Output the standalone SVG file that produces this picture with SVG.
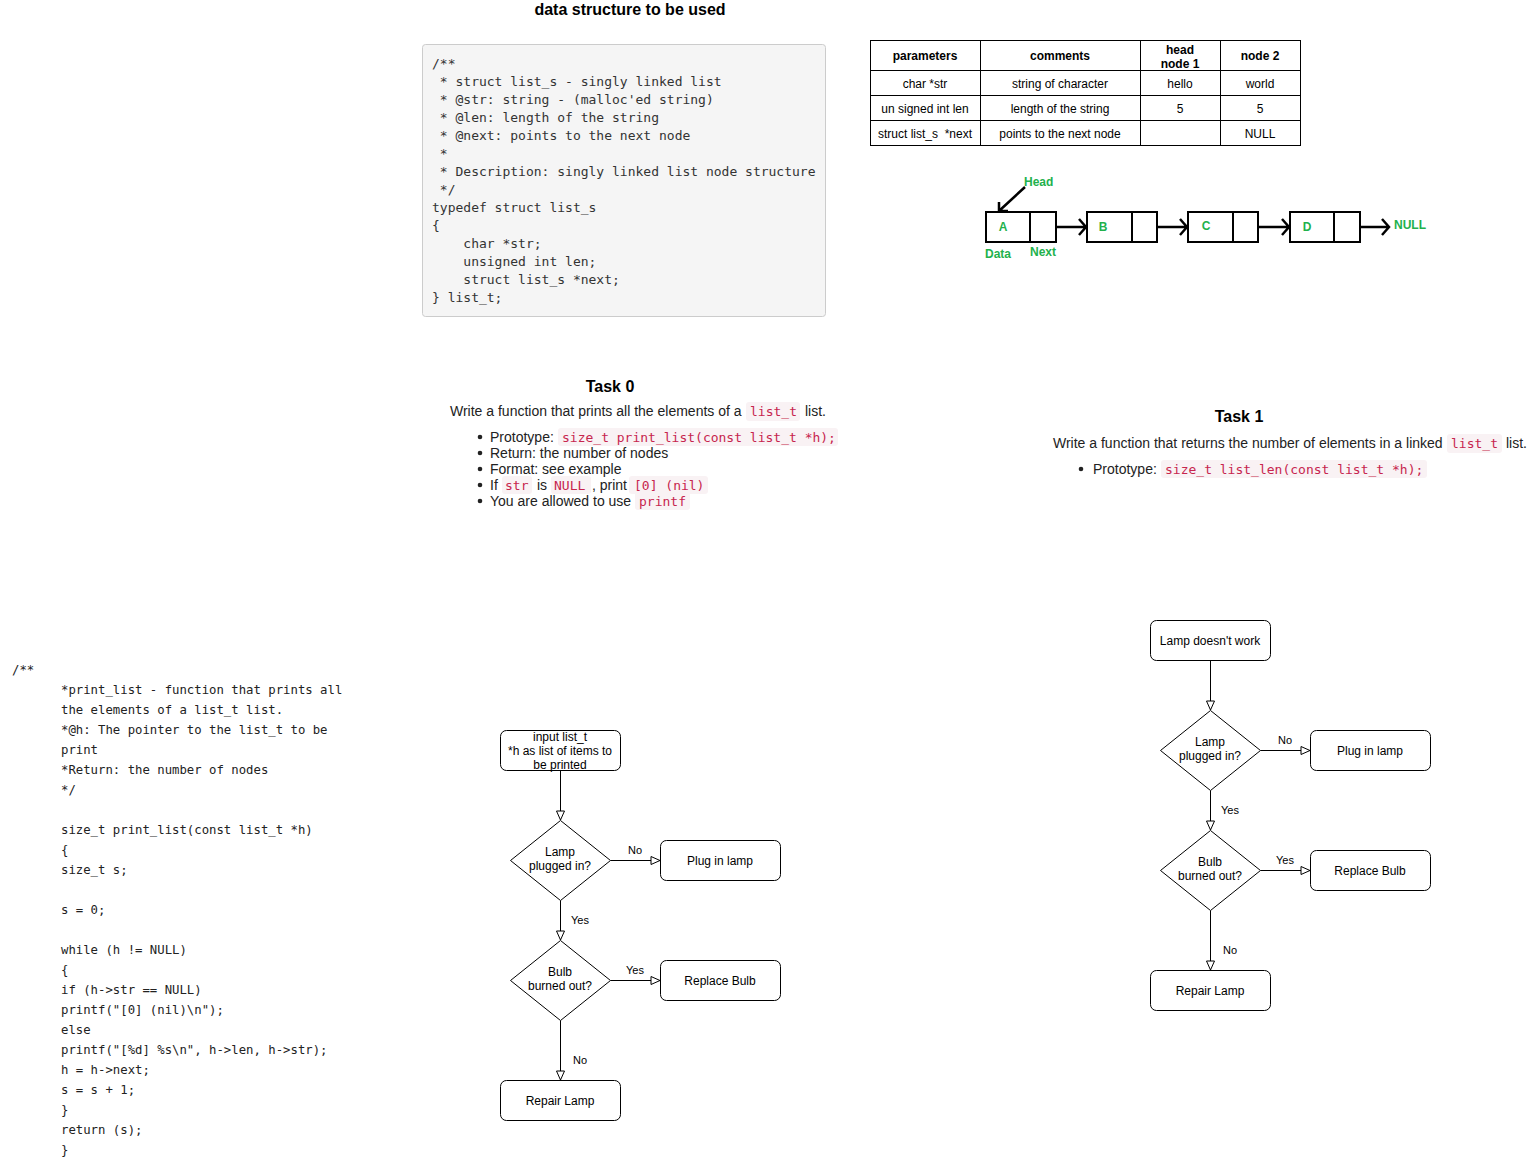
<svg xmlns="http://www.w3.org/2000/svg" width="1531" height="1161" viewBox="0 0 1531 1161">
<style>
.sans{font-family:"Liberation Sans",Arial,sans-serif}
.mono{font-family:"DejaVu Sans Mono","Liberation Mono",monospace}
.code{font-family:"DejaVu Sans Mono","Liberation Mono",monospace;font-size:13px;fill:#333}
.lcode{font-family:"DejaVu Sans Mono","Liberation Mono",monospace;font-size:12.3px;fill:#222}
.td{font-family:"Liberation Sans",Arial,sans-serif;font-size:12px;fill:#000;text-anchor:middle}
.th{font-family:"Liberation Sans",Arial,sans-serif;font-size:12px;font-weight:bold;fill:#000;text-anchor:middle}
.body{font-family:"Liberation Sans",Arial,sans-serif;font-size:14px;fill:#222}
.ic{fill:#f9f2f4}
.ict{font-family:"DejaVu Sans Mono","Liberation Mono",monospace;font-size:13px;fill:#c7254e}
.grn{font-family:"Liberation Sans",Arial,sans-serif;font-size:12px;font-weight:bold;fill:#22b14c}
.box{fill:#fff;stroke:#000;stroke-width:1}
.fl{font-family:"Liberation Sans",Arial,sans-serif;font-size:12px;fill:#000;text-anchor:middle}
.lbl{font-family:"Liberation Sans",Arial,sans-serif;font-size:11px;fill:#000;text-anchor:middle}
.edge{fill:none;stroke:#000;stroke-width:1}
.ll{fill:none;stroke:#000;stroke-width:2}
.lla{fill:none;stroke:#000;stroke-width:2.5}
</style>
<defs>
<marker id="tri" markerWidth="12" markerHeight="10" refX="10" refY="5" orient="auto" markerUnits="userSpaceOnUse">
<path d="M1,1 L10,5 L1,9 Z" fill="#fff" stroke="#000" stroke-width="1"/>
</marker>
</defs>
<rect width="1531" height="1161" fill="#fff"/>

<g id="title">
<text x="630" y="15" class="sans" font-size="16" font-weight="bold" text-anchor="middle">data structure to be used</text>
</g>

<g id="struct-code">
<rect x="422.5" y="44.5" width="403" height="272" rx="3" fill="#f5f5f5" stroke="#ccc"/>
<text class="code" xml:space="preserve"><tspan x="432" y="68">/**</tspan><tspan x="432" y="86"> * struct list_s - singly linked list</tspan><tspan x="432" y="104"> * @str: string - (malloc'ed string)</tspan><tspan x="432" y="122"> * @len: length of the string</tspan><tspan x="432" y="140"> * @next: points to the next node</tspan><tspan x="432" y="158"> *</tspan><tspan x="432" y="176"> * Description: singly linked list node structure</tspan><tspan x="432" y="194"> */</tspan><tspan x="432" y="212">typedef struct list_s</tspan><tspan x="432" y="230">{</tspan><tspan x="432" y="248">    char *str;</tspan><tspan x="432" y="266">    unsigned int len;</tspan><tspan x="432" y="284">    struct list_s *next;</tspan><tspan x="432" y="302">} list_t;</tspan></text>
</g>

<g id="table">
<rect x="870.5" y="40.5" width="430" height="105" fill="#fff" stroke="#000"/>
<path d="M980.5,40.5V145.5M1140.5,40.5V145.5M1220.5,40.5V145.5M870.5,70.5H1300.5M870.5,95.5H1300.5M870.5,120.5H1300.5" stroke="#000" fill="none"/>
<text x="925" y="60" class="th">parameters</text>
<text x="1060" y="60" class="th">comments</text>
<text x="1180" y="54" class="th">head</text>
<text x="1180" y="68" class="th">node 1</text>
<text x="1260" y="60" class="th">node 2</text>
<text x="925" y="88" class="td">char *str</text>
<text x="1060" y="88" class="td">string of character</text>
<text x="1180" y="88" class="td">hello</text>
<text x="1260" y="88" class="td">world</text>
<text x="925" y="113" class="td">un signed int len</text>
<text x="1060" y="113" class="td">length of the string</text>
<text x="1180" y="113" class="td">5</text>
<text x="1260" y="113" class="td">5</text>
<text x="925" y="138" class="td" xml:space="preserve">struct list_s  *next</text>
<text x="1060" y="138" class="td">points to the next node</text>
<text x="1260" y="138" class="td">NULL</text>
</g>

<g id="linked-list">
<rect x="986" y="212" width="70" height="30" class="ll"/>
<line x1="1030" y1="212" x2="1030" y2="242" class="ll"/>
<rect x="1087" y="212" width="70" height="30" class="ll"/>
<line x1="1132" y1="212" x2="1132" y2="242" class="ll"/>
<rect x="1188" y="212" width="70" height="30" class="ll"/>
<line x1="1233" y1="212" x2="1233" y2="242" class="ll"/>
<rect x="1290" y="212" width="70" height="30" class="ll"/>
<line x1="1334" y1="212" x2="1334" y2="242" class="ll"/>
<path d="M1056,227H1085M1079,219L1086,227L1079,235" class="lla"/>
<path d="M1157,227H1186M1180,219L1187,227L1180,235" class="lla"/>
<path d="M1258,227H1288M1282,219L1289,227L1282,235" class="lla"/>
<path d="M1360,227H1388M1382,219L1389,227L1382,235" class="lla"/>
<path d="M1025,187L999,211M999,202L999,211L1008,211" class="lla"/>
<text x="1003" y="231" class="grn" text-anchor="middle">A</text>
<text x="1103" y="231" class="grn" text-anchor="middle">B</text>
<text x="1206" y="230" class="grn" text-anchor="middle">C</text>
<text x="1307" y="231" class="grn" text-anchor="middle">D</text>
<text x="1024" y="186" class="grn">Head</text>
<text x="985" y="258" class="grn">Data</text>
<text x="1030" y="256" class="grn">Next</text>
<text x="1394" y="229" class="grn">NULL</text>
</g>

<g id="task0">
<text x="610" y="392" class="sans" font-size="16" font-weight="bold" text-anchor="middle">Task 0</text>
<text x="450" y="416" class="body">Write a function that prints all the elements of a</text>
<rect x="746" y="402" width="54" height="19" rx="3" class="ic"/>
<text x="750" y="416" class="ict">list_t</text>
<text x="805" y="416" class="body">list.</text>
<circle cx="480" cy="437" r="2.3" fill="#222"/>
<circle cx="480" cy="453" r="2.3" fill="#222"/>
<circle cx="480" cy="469" r="2.3" fill="#222"/>
<circle cx="480" cy="485" r="2.3" fill="#222"/>
<circle cx="480" cy="501" r="2.3" fill="#222"/>
<text x="490" y="442" class="body">Prototype:</text>
<rect x="558" y="428" width="280" height="18" rx="3" class="ic"/>
<text x="562" y="442" class="ict">size_t print_list(const list_t *h);</text>
<text x="490" y="458" class="body">Return: the number of nodes</text>
<text x="490" y="474" class="body">Format: see example</text>
<text x="490" y="490" class="body">If</text>
<rect x="502" y="476" width="30" height="18" rx="3" class="ic"/>
<text x="505" y="490" class="ict">str</text>
<text x="537" y="490" class="body">is</text>
<rect x="551" y="476" width="40" height="18" rx="3" class="ic"/>
<text x="554" y="490" class="ict">NULL</text>
<text x="592" y="490" class="body">, print</text>
<rect x="629" y="476" width="79" height="18" rx="3" class="ic"/>
<text x="634" y="490" class="ict">[0] (nil)</text>
<text x="490" y="506" class="body">You are allowed to use</text>
<rect x="635" y="492" width="55" height="18" rx="3" class="ic"/>
<text x="639" y="506" class="ict">printf</text>
</g>

<g id="task1">
<text x="1239" y="422" class="sans" font-size="16" font-weight="bold" text-anchor="middle">Task 1</text>
<text x="1053" y="448" class="body">Write a function that returns the number of elements in a linked</text>
<rect x="1447" y="434" width="55" height="19" rx="3" class="ic"/>
<text x="1451" y="448" class="ict">list_t</text>
<text x="1506" y="448" class="body">list.</text>
<circle cx="1081" cy="469" r="2.3" fill="#222"/>
<text x="1093" y="474" class="body">Prototype:</text>
<rect x="1161" y="460" width="266" height="18" rx="3" class="ic"/>
<text x="1165" y="474" class="ict">size_t list_len(const list_t *h);</text>
</g>

<g id="print-list-code">
<text class="lcode" xml:space="preserve"><tspan x="12" y="674">/**</tspan><tspan x="61" y="694">*print_list - function that prints all</tspan><tspan x="61" y="714">the elements of a list_t list.</tspan><tspan x="61" y="734">*@h: The pointer to the list_t to be</tspan><tspan x="61" y="754">print</tspan><tspan x="61" y="774">*Return: the number of nodes</tspan><tspan x="61" y="794">*/</tspan><tspan x="61" y="834">size_t print_list(const list_t *h)</tspan><tspan x="61" y="854">{</tspan><tspan x="61" y="874">size_t s;</tspan><tspan x="61" y="914">s = 0;</tspan><tspan x="61" y="954">while (h != NULL)</tspan><tspan x="61" y="974">{</tspan><tspan x="61" y="994">if (h-&gt;str == NULL)</tspan><tspan x="61" y="1014">printf("[0] (nil)\n");</tspan><tspan x="61" y="1034">else</tspan><tspan x="61" y="1054">printf("[%d] %s\n", h-&gt;len, h-&gt;str);</tspan><tspan x="61" y="1074">h = h-&gt;next;</tspan><tspan x="61" y="1094">s = s + 1;</tspan><tspan x="61" y="1114">}</tspan><tspan x="61" y="1134">return (s);</tspan><tspan x="61" y="1154">}</tspan></text>
</g>

<g id="connectors">
<path d="M560.5,770.5V820" class="edge" marker-end="url(#tri)"/>
<path d="M610.5,860.5H660" class="edge" marker-end="url(#tri)"/>
<path d="M560.5,900.5V940" class="edge" marker-end="url(#tri)"/>
<path d="M610.5,980.5H660" class="edge" marker-end="url(#tri)"/>
<path d="M560.5,1020.5V1080" class="edge" marker-end="url(#tri)"/>
<path d="M1210.5,660.5V710" class="edge" marker-end="url(#tri)"/>
<path d="M1260.5,750.5H1310" class="edge" marker-end="url(#tri)"/>
<path d="M1210.5,790.5V830" class="edge" marker-end="url(#tri)"/>
<path d="M1260.5,870.5H1310" class="edge" marker-end="url(#tri)"/>
<path d="M1210.5,910.5V970" class="edge" marker-end="url(#tri)"/>
<text x="635" y="854" class="lbl">No</text>
<text x="580" y="924" class="lbl">Yes</text>
<text x="635" y="974" class="lbl">Yes</text>
<text x="580" y="1064" class="lbl">No</text>
<text x="1285" y="744" class="lbl">No</text>
<text x="1230" y="814" class="lbl">Yes</text>
<text x="1285" y="864" class="lbl">Yes</text>
<text x="1230" y="954" class="lbl">No</text>
</g>

<g id="l-start">
<rect x="500.5" y="730.5" width="120" height="40" rx="6" class="box"/>
<text x="560" y="741" class="fl">input list_t</text>
<text x="560" y="755" class="fl">*h as list of items to</text>
<text x="560" y="769" class="fl">be printed</text>
</g>
<g id="l-plugged">
<path d="M560.5,820.5L610.5,860.5L560.5,900.5L510.5,860.5Z" class="box"/>
<text x="560" y="856" class="fl">Lamp</text>
<text x="560" y="870" class="fl">plugged in?</text>
</g>
<g id="l-plug">
<rect x="660.5" y="840.5" width="120" height="40" rx="6" class="box"/>
<text x="720" y="865" class="fl">Plug in lamp</text>
</g>
<g id="l-bulb">
<path d="M560.5,940.5L610.5,980.5L560.5,1020.5L510.5,980.5Z" class="box"/>
<text x="560" y="976" class="fl">Bulb</text>
<text x="560" y="990" class="fl">burned out?</text>
</g>
<g id="l-replace">
<rect x="660.5" y="960.5" width="120" height="40" rx="6" class="box"/>
<text x="720" y="985" class="fl">Replace Bulb</text>
</g>
<g id="l-repair">
<rect x="500.5" y="1080.5" width="120" height="40" rx="6" class="box"/>
<text x="560" y="1105" class="fl">Repair Lamp</text>
</g>

<g id="r-start">
<rect x="1150.5" y="620.5" width="120" height="40" rx="6" class="box"/>
<text x="1210" y="645" class="fl">Lamp doesn't work</text>
</g>
<g id="r-plugged">
<path d="M1210.5,710.5L1260.5,750.5L1210.5,790.5L1160.5,750.5Z" class="box"/>
<text x="1210" y="746" class="fl">Lamp</text>
<text x="1210" y="760" class="fl">plugged in?</text>
</g>
<g id="r-plug">
<rect x="1310.5" y="730.5" width="120" height="40" rx="6" class="box"/>
<text x="1370" y="755" class="fl">Plug in lamp</text>
</g>
<g id="r-bulb">
<path d="M1210.5,830.5L1260.5,870.5L1210.5,910.5L1160.5,870.5Z" class="box"/>
<text x="1210" y="866" class="fl">Bulb</text>
<text x="1210" y="880" class="fl">burned out?</text>
</g>
<g id="r-replace">
<rect x="1310.5" y="850.5" width="120" height="40" rx="6" class="box"/>
<text x="1370" y="875" class="fl">Replace Bulb</text>
</g>
<g id="r-repair">
<rect x="1150.5" y="970.5" width="120" height="40" rx="6" class="box"/>
<text x="1210" y="995" class="fl">Repair Lamp</text>
</g>
</svg>
